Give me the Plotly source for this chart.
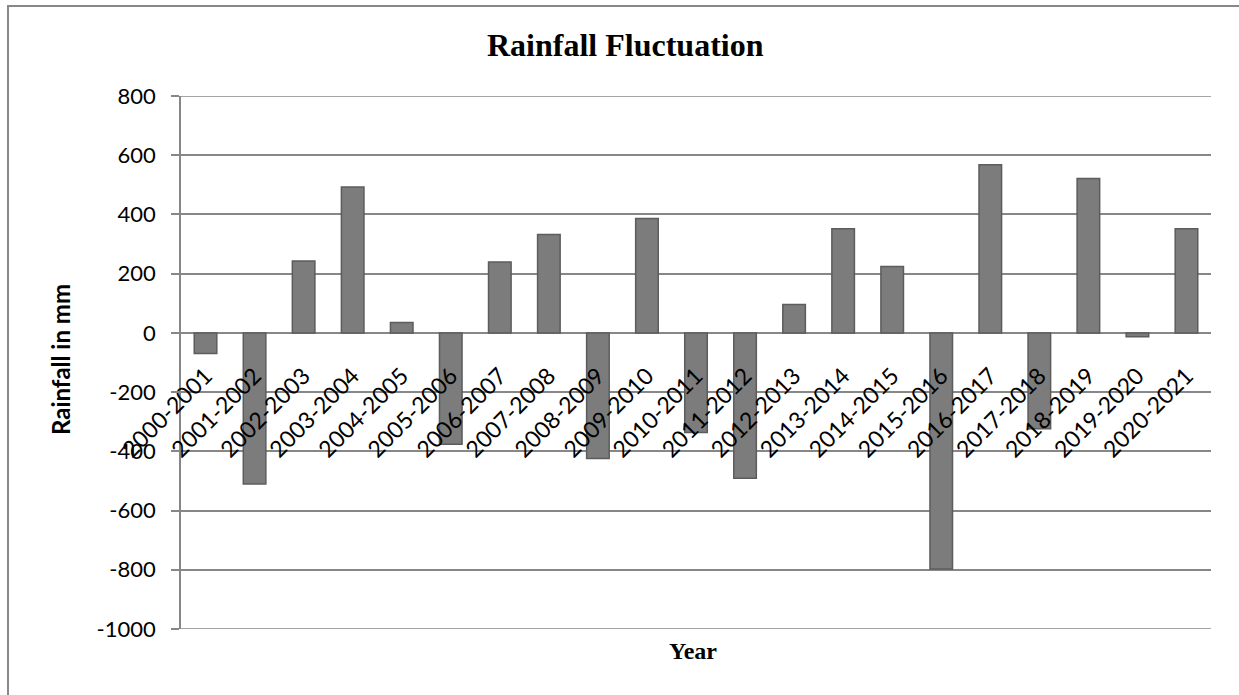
import plotly.graph_objects as go

years = ["2000-2001", "2001-2002", "2002-2003", "2003-2004", "2004-2005",
         "2005-2006", "2006-2007", "2007-2008", "2008-2009", "2009-2010",
         "2010-2011", "2011-2012", "2012-2013", "2013-2014", "2014-2015",
         "2015-2016", "2016-2017", "2017-2018", "2018-2019", "2019-2020",
         "2020-2021"]
rainfall = [-70, -510, 243, 493, 35, -376, 239, 332, -424, 386,
            -336, -491, 96, 352, 224, -797, 568, -324, 521, -13, 352]
y_ticks = [-1000, -800, -600, -400, -200, 0, 200, 400, 600, 800]
y_tick_text = ["-1000", "-800", "-600", "-400", "-200", "0", "200", "400", "600", "800"]

W, H = 1239, 695
L, R, T, B = 181, 28, 96, 66
pw, ph = W - L - R, H - T - B

def px_x(p):
    return (p - L) / pw

def px_y(p):
    return (H - B - p) / ph

fig = go.Figure()
fig.add_trace(go.Bar(
    x=years, y=rainfall,
    marker=dict(color="#7c7c7c", line=dict(color="#5c5c5c", width=1.5)),
))

grid_col = "#878787"
edge_lines = [
    dict(type="line", xref="paper", yref="y", x0=0, x1=1, y0=v, y1=v,
         line=dict(color=grid_col, width=1.6), layer="below")
    for v in (y_ticks[0], y_ticks[-1])
]

fig.update_layout(
    width=W, height=H,
    margin=dict(l=L, r=R, t=T, b=B),
    paper_bgcolor="white", plot_bgcolor="white",
    bargap=0.54,
    showlegend=False,
    font=dict(family="Lato", color="black"),
    xaxis=dict(
        type="category",
        anchor="free", position=1000 / 1800,
        showline=False, showgrid=False, zeroline=False,
        ticks="", tickangle=-45,
        tickfont=dict(family="Lato", size=23, color="black"),
        ticklabelstandoff=24,
    ),
    yaxis=dict(
        range=[y_ticks[0], y_ticks[-1]],
        tickvals=y_ticks, ticktext=y_tick_text,
        showgrid=True, gridcolor=grid_col, gridwidth=1.6,
        zeroline=False,
        showline=True, linecolor=grid_col, linewidth=1.6,
        ticks="outside", ticklen=8, tickcolor=grid_col, tickwidth=1.6,
        tickfont=dict(family="Lato", size=22, color="black"),
        ticklabelstandoff=11,
    ),
    annotations=[
        dict(text="<b>Rainfall Fluctuation</b>", xref="paper", yref="paper",
             x=px_x(625), y=px_y(45), showarrow=False,
             font=dict(family="Liberation Serif", size=32, color="black"),
             xanchor="center", yanchor="middle"),
        dict(text="<b>Year</b>", xref="paper", yref="paper",
             x=px_x(693), y=px_y(651), showarrow=False,
             font=dict(family="Liberation Serif", size=24, color="black"),
             xanchor="center", yanchor="middle"),
        dict(text="<b>Rainfall in mm</b>", xref="paper", yref="paper",
             x=px_x(60), y=px_y(360), showarrow=False, textangle=-90,
             font=dict(family="Lato", size=24, color="black"),
             xanchor="center", yanchor="middle"),
    ],
    shapes=[
        dict(type="rect", xref="paper", yref="paper",
             x0=px_x(8), x1=px_x(1300), y0=px_y(760), y1=px_y(6),
             line=dict(color="#888888", width=2), fillcolor="rgba(0,0,0,0)",
             layer="below"),
    ] + edge_lines,
)

fig.write_html("out.html",
               config={"displayModeBar": False},
               post_script="document.body.style.margin='0px';document.body.style.overflow='hidden';")
